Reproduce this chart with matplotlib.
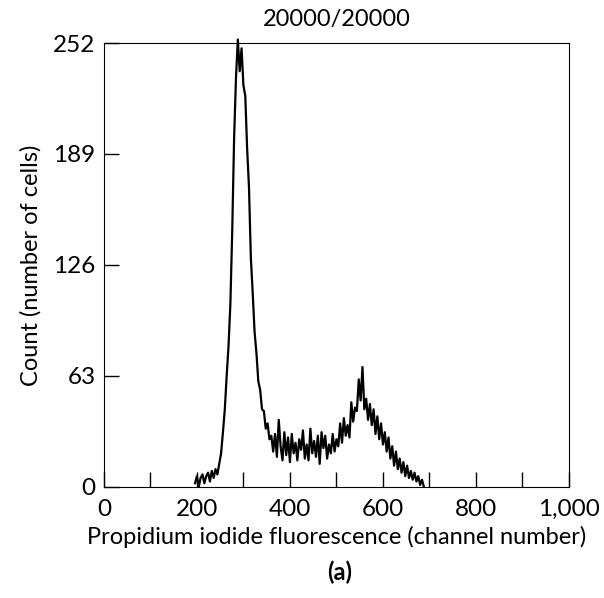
import matplotlib
matplotlib.use("Agg")
import matplotlib.pyplot as plt
import numpy as np

plt.rcParams['font.family'] = ['Lato', 'DejaVu Sans']

# histogram counts, read every 4 channels starting at channel 196
start_channel = 196
channel_step = 4
counts = [2, 6, 0, 5, 7, 2, 6, 8, 3, 9, 5, 10, 7, 13, 19, 31, 44, 63, 80, 104,
          146, 198, 232, 254, 236, 249, 228, 222, 192, 170, 130, 110, 88, 76, 60, 55,
          44, 43, 33, 36, 27, 29, 20, 30, 17, 38, 23, 15, 31, 18, 28, 14, 30, 19,
          25, 15, 27, 21, 32, 16, 24, 15, 33, 19, 26, 17, 29, 13, 31, 22, 29, 16,
          24, 19, 30, 20, 27, 23, 36, 25, 39, 29, 35, 28, 48, 37, 45, 43, 61, 49,
          68, 44, 50, 38, 47, 35, 44, 30, 40, 27, 36, 24, 31, 20, 28, 16, 23, 12,
          20, 10, 16, 8, 14, 6, 12, 5, 9, 4, 8, 3, 6, 1, 4, 0]
channels = np.arange(len(counts)) * channel_step + start_channel

x_ticks = [0, 100, 200, 300, 400, 500, 600, 700, 800, 900, 1000]
x_labels = ['0', '', '200', '', '400', '', '600', '', '800', '', '1,000']
y_ticks = [0, 63, 126, 189, 252]
y_labels = ['0', '63', '126', '189', '252']

fig = plt.figure(figsize=(6.04, 5.98), dpi=100)
ax = fig.add_axes([0.172, 0.186, 0.77, 0.742])

ax.plot(channels, counts, color='black', lw=1.6, clip_on=False)

ax.set_xlim(0, 1000)
ax.set_ylim(0, 252)
ax.set_xticks(x_ticks)
ax.set_xticklabels(x_labels)
ax.set_yticks(y_ticks)
ax.set_yticklabels(y_labels)
ax.tick_params(direction='in', length=11, width=1, labelsize=17.5)
ax.tick_params(axis='x', pad=9)
ax.tick_params(axis='y', pad=6)

ax.set_title('20000/20000', fontsize=17, pad=12)
ax.set_xlabel('Propidium iodide fluorescence (channel number)', fontsize=17, labelpad=4)
ax.set_ylabel('Count (number of cells)', fontsize=17, labelpad=8)
fig.text(0.563, 0.03, '(a)', fontsize=17, fontweight='bold', ha='center')

fig.savefig('out.png', dpi=100)
